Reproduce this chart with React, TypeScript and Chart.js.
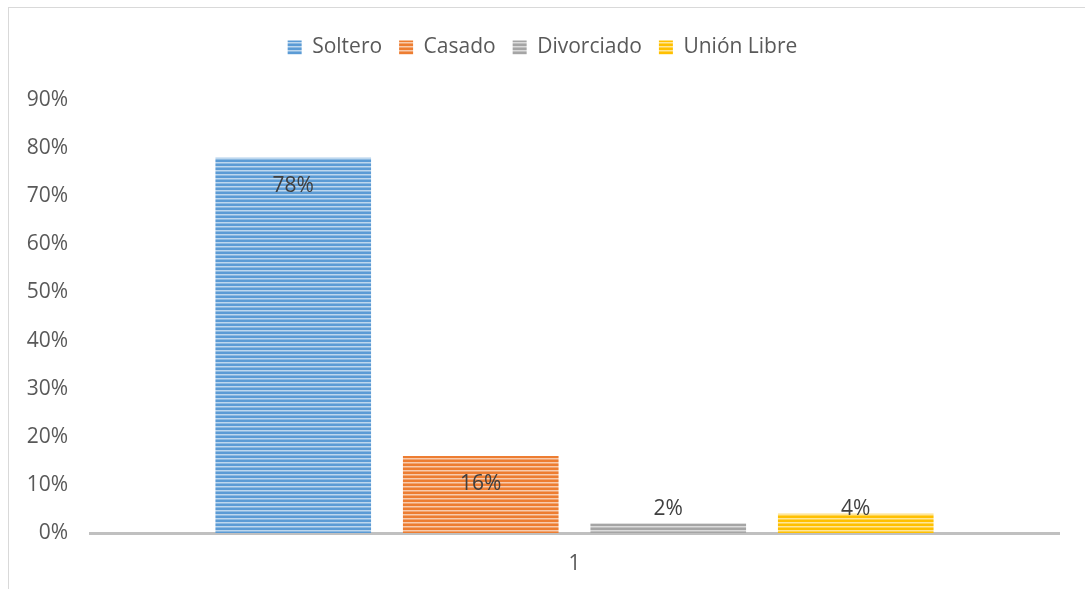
import React, { useEffect, useRef } from "react";
import { Chart, registerables } from "chart.js";

Chart.register(...registerables);

const categories = ["1"];
const seriesNames = ["Soltero", "Casado", "Divorciado", "Unión Libre"];
const seriesValues = [[78], [16], [2], [4]];
const seriesColors = ["#5B9BD5", "#ED7D31", "#A5A5A5", "#FFC000"];
const seriesLight = ["#BDD7EE", "#F8CBAD", "#DBDBDB", "#FFE699"];
const yTicksMax = 90;
const yTickStep = 10;

const FONT = "'Open Sans', 'Noto Sans', sans-serif";
const FONT_SIZE = 21;

function makePattern(base: string, light: string): CanvasPattern | string {
  const c = document.createElement("canvas");
  c.width = 4;
  c.height = 4;
  const ctx = c.getContext("2d");
  if (!ctx) return base;
  ctx.fillStyle = base;
  ctx.fillRect(0, 0, 4, 4);
  ctx.fillStyle = light;
  ctx.fillRect(0, 2, 4, 1);
  ctx.globalAlpha = 0.5;
  ctx.fillRect(0, 3, 4, 1);
  const p = ctx.createPattern(c, "repeat");
  return p || base;
}

const legendSpacePlugin = {
  id: "legendSpace",
  beforeInit(chart: any) {
    const legend = chart.legend;
    if (!legend) return;
    const origFit = legend.fit;
    legend.fit = function () {
      origFit.call(this);
      this.height += 32;
    };
  },
};

const labelPlugin = {
  id: "barValueLabels",
  afterDatasetsDraw(chart: any) {
    const ctx = chart.ctx;
    ctx.save();
    ctx.font = `${FONT_SIZE}px ${FONT}`;
    ctx.fillStyle = "#404040";
    ctx.textAlign = "center";
    ctx.textBaseline = "middle";
    chart.data.datasets.forEach((ds: any, i: number) => {
      const meta = chart.getDatasetMeta(i);
      meta.data.forEach((bar: any, j: number) => {
        const v = ds.data[j];
        const y = Math.min(bar.y + 28, bar.base - 24);
        ctx.fillText(`${v}%`, bar.x, y);
      });
    });
    ctx.restore();
  },
};

export default function App() {
  const ref = useRef<HTMLCanvasElement>(null);
  useEffect(() => {
    if (!ref.current) return;
    const datasets = seriesNames.map((name, i) => ({
      label: name,
      data: seriesValues[i],
      backgroundColor: makePattern(seriesColors[i], seriesLight[i]),
      borderWidth: 0,
      categoryPercentage: 0.774,
      barPercentage: 0.83,
    }));
    const chart = new Chart(ref.current, {
      type: "bar",
      data: { labels: categories, datasets },
      options: {
        animation: false,
        responsive: false,
        maintainAspectRatio: false,
        layout: { padding: { left: 17, right: 26, top: 12, bottom: 0 } },
        plugins: {
          legend: {
            position: "top",
            labels: {
              boxWidth: 14,
              boxHeight: 14,
              padding: 17,
              color: "#595959",
              font: { family: FONT, size: FONT_SIZE },
            },
          },
          tooltip: { enabled: false },
        },
        scales: {
          x: {
            grid: { display: false, drawTicks: false },
            border: { display: true, color: "#C0C0C0", width: 3 },
            ticks: {
              color: "#595959",
              padding: 18,
              font: { family: FONT, size: FONT_SIZE },
            },
            afterFit: (s: any) => {
              s.height = 56;
            },
          },
          y: {
            min: 0,
            max: yTicksMax,
            grid: { display: false, drawTicks: false },
            border: { display: false },
            ticks: {
              stepSize: yTickStep,
              padding: 22,
              color: "#595959",
              font: { family: FONT, size: FONT_SIZE },
              callback: (v: any) => `${v}%`,
            },
            afterFit: (s: any) => {
              s.width = 64;
            },
          },
        },
      },
      plugins: [legendSpacePlugin, labelPlugin],
    });
    return () => chart.destroy();
  }, []);
  return (
    <div
      style={{
        position: "absolute",
        left: 8,
        top: 7,
        width: 1077,
        height: 582,
        borderTop: "1px solid #D9D9D9",
        borderLeft: "1px solid #D9D9D9",
        background: "#fff",
        overflow: "hidden",
      }}
    >
      <canvas ref={ref} width={1076} height={581} style={{ display: "block" }} />
    </div>
  );
}
